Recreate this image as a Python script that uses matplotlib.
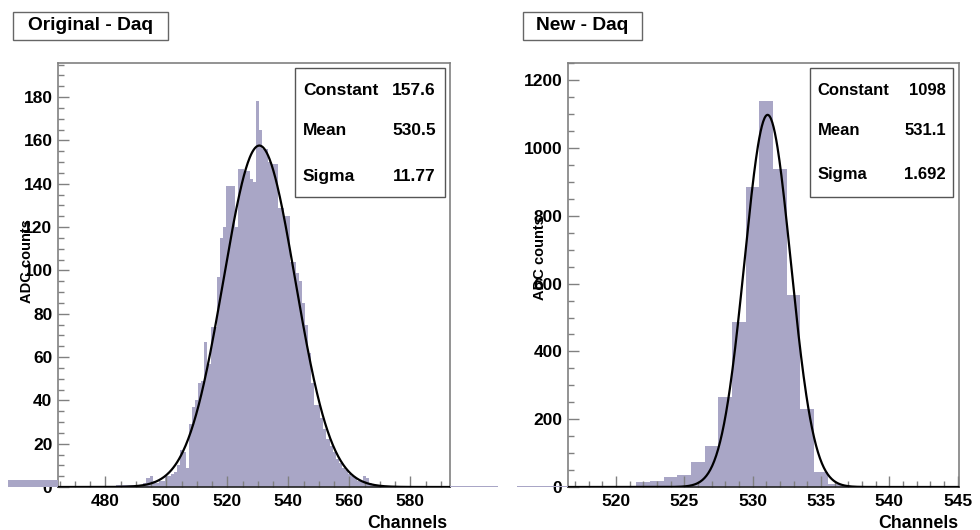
import numpy as np
import matplotlib.pyplot as plt
from matplotlib.patches import Rectangle
from matplotlib.ticker import MultipleLocator

plt.rcParams['font.family'] = ['Liberation Sans', 'DejaVu Sans']
plt.rcParams['font.weight'] = 'bold'

# original DAQ, one bin per channel
orig_ch = list(range(484, 571))
orig_counts = [1, 1, 1, 1, 1, 1, 1, 1, 1, 2,            # 484-493
               4, 5, 3, 2, 3, 3, 5, 5, 6, 7,            # 494-503
               10, 17, 16, 9, 29, 37, 40, 48, 49, 67,   # 504-513
               57, 74, 74, 97, 115, 120, 139, 139, 139, 120,   # 514-523
               147, 147, 146, 146, 142, 141, 178, 165, 156, 156,  # 524-533
               150, 149, 149, 129, 129, 125, 125, 104, 104, 99,   # 534-543
               95, 85, 75, 62, 48, 38, 38, 32, 27, 22,            # 544-553
               19, 16, 13, 11, 9, 8, 6, 5, 4, 3,                  # 554-563
               3, 5, 4, 2, 1, 1, 1]                               # 564-570
orig_fit = (157.6, 530.5, 11.77)

# new DAQ
new_ch = list(range(519, 538))
new_counts = [2, 4, 4, 16, 17, 30, 36, 75, 121, 265,
              488, 885, 1139, 938, 566, 229, 45, 10, 3]
new_fit = (1098, 531.1, 1.692)

# bins outside the shown range
orig_under = (448.1, 464.5, 3.3)
orig_over = (593.0, 608.8, 0.6)
new_under = (512.8, 516.5, 3.0)

fill = '#a9a6c6'
grey = '#808080'


def gaus(x, c, m, s):
    return c * np.exp(-0.5 * ((x - m) / s) ** 2)


def style(ax, xlim, ylim, xmaj, xmin, ymaj, ymin):
    ax.set_xlim(*xlim)
    ax.set_ylim(*ylim)
    ax.xaxis.set_major_locator(MultipleLocator(xmaj))
    ax.xaxis.set_minor_locator(MultipleLocator(xmin))
    ax.yaxis.set_major_locator(MultipleLocator(ymaj))
    ax.yaxis.set_minor_locator(MultipleLocator(ymin))
    ax.tick_params(which='both', direction='in', color=grey, labelsize=12.5,
                   top=False, right=False)
    ax.tick_params(which='major', length=8, width=1)
    ax.tick_params(which='minor', length=4, width=1)
    ax.tick_params(axis='x', pad=5)
    ax.tick_params(axis='y', pad=4)
    for sp in ax.spines.values():
        sp.set_color(grey)
        sp.set_linewidth(1.2)
    ax.spines['bottom'].set_color('#222222')


def stats(ax, fit, x0, x1, lx, vx, rows, fmt, size):
    ax.add_patch(Rectangle((x0, 0.684), x1 - x0, 0.304, transform=ax.transAxes,
                           facecolor='white', edgecolor='#555555', lw=1, zorder=5))
    names = ['Constant', 'Mean', 'Sigma']
    for name, val, y, f in zip(names, fit, rows, fmt):
        ax.text(lx, y, name, transform=ax.transAxes, fontsize=size,
                fontweight='bold', va='center', ha='left', zorder=6)
        ax.text(vx, y, f.format(val), transform=ax.transAxes, fontsize=size,
                fontweight='bold', va='center', ha='right', zorder=6)


fig = plt.figure(figsize=(9.8, 5.3), dpi=100)
ax1 = fig.add_axes([58 / 980, 43 / 530, 392 / 980, 424 / 530])
ax2 = fig.add_axes([568 / 980, 43 / 530, 391 / 980, 424 / 530])

# left panel
ax1.bar(orig_ch, orig_counts, width=1.0, color=fill, linewidth=0, zorder=1)
xs = np.linspace(464.5, 593, 600)
ax1.plot(xs, gaus(xs, *orig_fit), color='black', lw=1.6, zorder=4)
for a, b, h in (orig_under, orig_over):
    ax1.bar(a, h, width=b - a, align='edge', color=fill, linewidth=0,
            clip_on=False, zorder=3)
style(ax1, (464.5, 593), (0, 195.7), 20, 5, 20, 5)
stats(ax1, orig_fit, 0.605, 0.987, 0.625, 0.964, [0.936, 0.840, 0.733],
      ['{:.1f}', '{:.1f}', '{:.2f}'], 12.5)

# right panel
ax2.bar(new_ch, new_counts, width=1.0, color=fill, linewidth=0, zorder=1)
xs = np.linspace(516.5, 545.1, 600)
ax2.plot(xs, gaus(xs, *new_fit), color='black', lw=1.6, zorder=4)
a, b, h = new_under
ax2.bar(a, h, width=b - a, align='edge', color=fill, linewidth=0,
        clip_on=False, zorder=3)
style(ax2, (516.5, 545.1), (0, 1251), 5, 1, 200, 50)
stats(ax2, new_fit, 0.619, 0.985, 0.639, 0.967, [0.936, 0.840, 0.738],
      ['{:.0f}', '{:.1f}', '{:.3f}'], 12)

# panel titles
for (x0, x1), title in (((13, 168), 'Original - Daq'), ((523, 642), 'New - Daq')):
    fig.patches.append(Rectangle((x0 / 980, 490 / 530), (x1 - x0) / 980, 28 / 530,
                                 transform=fig.transFigure, facecolor='white',
                                 edgecolor='#666666', lw=1))
    fig.text((x0 + x1) / 2 / 980, 504 / 530, title, fontsize=13.8,
             fontweight='bold', ha='center', va='center')

# axis titles
fig.text(27 / 980, 1 - 261 / 530, 'ADC counts', rotation=90, fontsize=10.5,
         fontweight='bold', ha='center', va='center')
fig.text(540 / 980, 1 - 258 / 530, 'ADC counts', rotation=90, fontsize=10.5,
         fontweight='bold', ha='center', va='center')
fig.text(447 / 980, 1 - 523 / 530, 'Channels', fontsize=12.8,
         fontweight='bold', ha='right', va='center')
fig.text(958 / 980, 1 - 523 / 530, 'Channels', fontsize=12.8,
         fontweight='bold', ha='right', va='center')

fig.savefig('out.png', dpi=100)
